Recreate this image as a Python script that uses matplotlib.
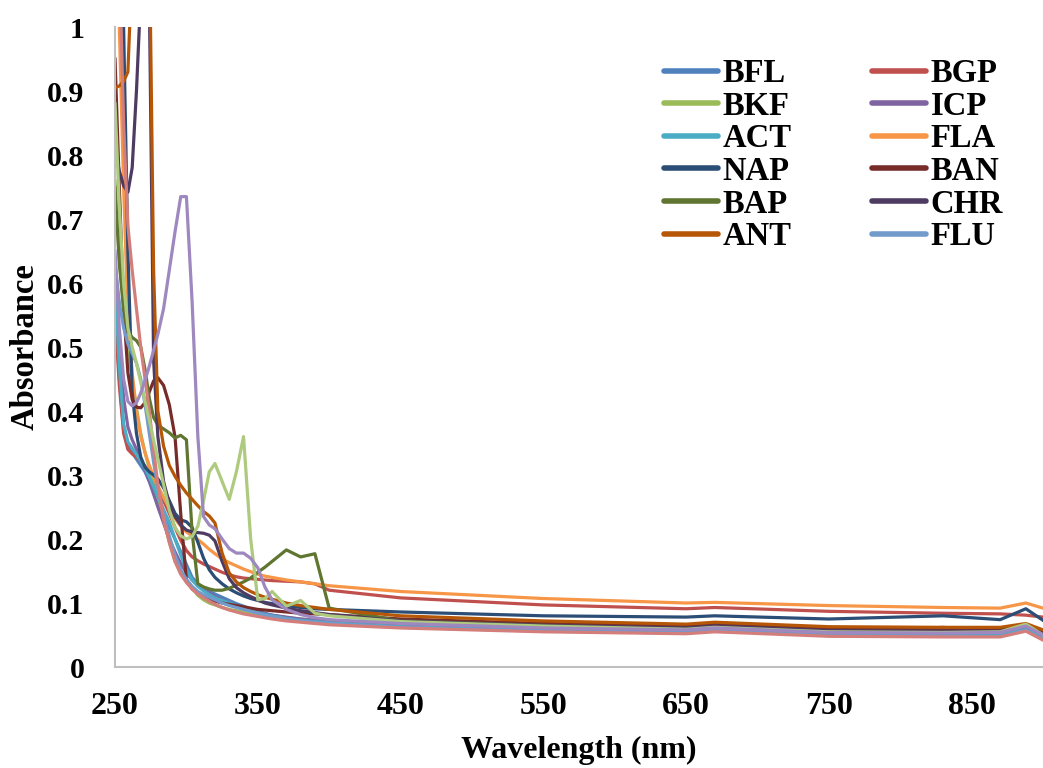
import matplotlib
matplotlib.use("Agg")
import matplotlib.pyplot as plt

plt.rcParams['font.family'] = ['Liberation Serif', 'DejaVu Serif']
plt.rcParams['font.weight'] = 'bold'

wl = [250, 253, 256, 259, 262, 265, 268, 271, 274, 277,
      280, 284, 288, 292, 296, 300, 304, 308, 312, 316,
      320, 325, 330, 335, 340, 345, 350, 355, 360, 370,
      380, 390, 400, 450, 550, 650, 670, 750, 830, 870,
      888, 900]

BFL = [0.58, 0.45, 0.37, 0.345, 0.335, 0.325, 0.315, 0.305, 0.29, 0.275,
       0.26, 0.24, 0.22, 0.2, 0.18, 0.16, 0.14, 0.13, 0.124, 0.119,
       0.114, 0.109, 0.104, 0.099, 0.095, 0.091, 0.087, 0.084, 0.081, 0.077,
       0.074, 0.072, 0.07, 0.064, 0.058, 0.055, 0.059, 0.051, 0.05, 0.05,
       0.06, 0.045]
BGP = [0.55, 0.44, 0.365, 0.34, 0.333, 0.328, 0.322, 0.314, 0.304, 0.293,
       0.28, 0.26, 0.24, 0.218, 0.198, 0.182, 0.172, 0.166, 0.161, 0.157,
       0.153, 0.148, 0.144, 0.141, 0.139, 0.138, 0.137, 0.136, 0.135, 0.134,
       0.133, 0.13, 0.12, 0.108, 0.097, 0.091, 0.093, 0.087, 0.084, 0.083,
       0.081, 0.078]
BKF = [0.76, 0.64, 0.56, 0.5, 0.45, 0.405, 0.365, 0.335, 0.31, 0.285,
       0.262, 0.232, 0.195, 0.165, 0.148, 0.136, 0.124, 0.112, 0.105, 0.1,
       0.097, 0.093, 0.09, 0.088, 0.086, 0.084, 0.082, 0.08, 0.079, 0.077,
       0.075, 0.073, 0.071, 0.066, 0.061, 0.057, 0.06, 0.054, 0.053, 0.054,
       0.066, 0.051]
ICP = [0.63, 0.5, 0.42, 0.375, 0.355, 0.34, 0.325, 0.308, 0.29, 0.27,
       0.25, 0.225, 0.2, 0.18, 0.162, 0.147, 0.136, 0.128, 0.122, 0.116,
       0.11, 0.105, 0.1, 0.096, 0.092, 0.089, 0.086, 0.083, 0.081, 0.078,
       0.075, 0.073, 0.071, 0.066, 0.06, 0.057, 0.06, 0.053, 0.062, 0.055,
       0.064, 0.05]
ACT = [0.6, 0.47, 0.38, 0.352, 0.342, 0.332, 0.322, 0.311, 0.297, 0.282,
       0.266, 0.246, 0.226, 0.2, 0.175, 0.152, 0.136, 0.126, 0.119, 0.113,
       0.108, 0.104, 0.1, 0.096, 0.092, 0.088, 0.085, 0.082, 0.08, 0.076,
       0.073, 0.071, 0.069, 0.063, 0.057, 0.054, 0.058, 0.05, 0.049, 0.049,
       0.06, 0.045]
FLA = [1.2, 1.0, 0.75, 0.55, 0.46, 0.4, 0.36, 0.335, 0.315, 0.298,
       0.283, 0.265, 0.248, 0.232, 0.22, 0.211, 0.205, 0.199, 0.192, 0.184,
       0.177, 0.169, 0.163, 0.158, 0.153, 0.149, 0.145, 0.142, 0.14, 0.136,
       0.133, 0.13, 0.127, 0.118, 0.107, 0.1, 0.101, 0.096, 0.093, 0.092,
       0.1, 0.092]
NAP = [1.2, 1.15, 1.0, 0.65, 0.43, 0.365, 0.328, 0.312, 0.305, 0.3,
       0.294, 0.28, 0.26, 0.24, 0.23, 0.227, 0.218, 0.195, 0.17, 0.152,
       0.14, 0.13, 0.122, 0.116, 0.111, 0.107, 0.104, 0.101, 0.099, 0.096,
       0.093, 0.091, 0.09, 0.086, 0.08, 0.078, 0.08, 0.075, 0.08, 0.074,
       0.091, 0.073]
BAN = [0.95, 0.75, 0.56, 0.46, 0.418, 0.406, 0.405, 0.413, 0.43, 0.447,
       0.452, 0.44, 0.41, 0.36, 0.24, 0.135, 0.122, 0.115, 0.11, 0.106,
       0.103, 0.1, 0.098, 0.096, 0.094, 0.092, 0.09, 0.089, 0.088, 0.086,
       0.084, 0.083, 0.082, 0.075, 0.068, 0.064, 0.067, 0.06, 0.059, 0.059,
       0.066, 0.055]
BAP = [0.75, 0.63, 0.56, 0.525, 0.515, 0.51, 0.5, 0.465, 0.42, 0.39,
       0.378, 0.372, 0.366, 0.358, 0.362, 0.355, 0.21, 0.13, 0.125, 0.122,
       0.12, 0.12, 0.123, 0.128, 0.133, 0.139, 0.148, 0.156, 0.165, 0.183,
       0.172, 0.177, 0.092, 0.072, 0.065, 0.06, 0.063, 0.056, 0.055, 0.055,
       0.066, 0.05]
CHR = [0.81, 0.775, 0.752, 0.742, 0.78, 0.9, 1.05, 1.12, 1.05, 0.48,
       0.36, 0.29, 0.255, 0.235, 0.222, 0.214, 0.211, 0.21, 0.209, 0.206,
       0.197, 0.165, 0.138, 0.124, 0.116, 0.11, 0.105, 0.1, 0.097, 0.092,
       0.088, 0.085, 0.082, 0.072, 0.065, 0.061, 0.064, 0.057, 0.056, 0.056,
       0.064, 0.052]
ANT = [0.905, 0.908, 0.915, 0.93, 1.1, 1.3, 1.3, 1.3, 1.15, 0.62,
       0.4, 0.345, 0.315, 0.298, 0.284, 0.272, 0.262, 0.252, 0.243, 0.236,
       0.225, 0.178, 0.147, 0.133, 0.124, 0.118, 0.113, 0.109, 0.106, 0.1,
       0.096, 0.093, 0.09, 0.08, 0.072, 0.067, 0.07, 0.063, 0.062, 0.062,
       0.068, 0.058]
FLU = [0.63, 0.57, 0.53, 0.505, 0.49, 0.475, 0.45, 0.41, 0.365, 0.32,
       0.28, 0.24, 0.205, 0.175, 0.152, 0.137, 0.126, 0.118, 0.113, 0.109,
       0.105, 0.1, 0.096, 0.093, 0.09, 0.087, 0.084, 0.081, 0.079, 0.075,
       0.072, 0.07, 0.068, 0.062, 0.056, 0.053, 0.057, 0.049, 0.048, 0.048,
       0.058, 0.044]

# extra curves drawn on the chart but missing from the legend
extra_salmon = [1.2, 1.1, 0.85, 0.69, 0.62, 0.56, 0.5, 0.45, 0.4, 0.34,
                0.285, 0.23, 0.195, 0.165, 0.145, 0.132, 0.122, 0.114, 0.108, 0.103,
                0.098, 0.093, 0.089, 0.086, 0.083, 0.081, 0.079, 0.077, 0.075, 0.072,
                0.07, 0.068, 0.066, 0.061, 0.055, 0.052, 0.055, 0.048, 0.047, 0.047,
                0.056, 0.042]
extra_green = [0.88, 0.72, 0.6, 0.53, 0.5, 0.475, 0.445, 0.415, 0.385, 0.355,
               0.325, 0.285, 0.245, 0.218, 0.205, 0.2, 0.204, 0.22, 0.26, 0.305,
               0.318, 0.29, 0.262, 0.305, 0.36, 0.2, 0.105, 0.107, 0.118, 0.095,
               0.104, 0.084, 0.08, 0.071, 0.064, 0.059, 0.062, 0.055, 0.054, 0.055,
               0.067, 0.05]
extra_lavender = [0.65, 0.53, 0.45, 0.415, 0.408, 0.413, 0.428, 0.448, 0.47, 0.495,
                  0.52, 0.56, 0.62, 0.68, 0.735, 0.735, 0.57, 0.36, 0.235, 0.222,
                  0.216, 0.2, 0.185, 0.178, 0.178, 0.17, 0.155, 0.125, 0.105, 0.09,
                  0.082, 0.077, 0.074, 0.068, 0.061, 0.058, 0.061, 0.054, 0.053, 0.054,
                  0.064, 0.05]

names = ['BFL', 'BGP', 'BKF', 'ICP', 'ACT', 'FLA', 'NAP', 'BAN', 'BAP', 'CHR', 'ANT', 'FLU']
series = [BFL, BGP, BKF, ICP, ACT, FLA, NAP, BAN, BAP, CHR, ANT, FLU]
colors = ['#4F81BD', '#C0504D', '#9BBB59', '#8064A2', '#4BACC6', '#F79646',
          '#2C4D75', '#772C2A', '#5F7530', '#4D3B62', '#B65708', '#729ACA']

fig = plt.figure(figsize=(10.43, 7.68), dpi=100)
ax = fig.add_axes([0.1103, 0.1315, 0.8897, 0.8333])

lines = {}
for name, vals, c in zip(names, series, colors):
    lines[name], = ax.plot(wl, vals, color=c, lw=2.3, label=name)
ax.plot(wl, extra_salmon, color='#D47E7B', lw=2.3)
ax.plot(wl, extra_green, color='#AECA7E', lw=2.3)
ax.plot(wl, extra_lavender, color='#9E88BF', lw=2.3)

ax.set_xlim(250, 900)
ax.set_ylim(0, 1)
ax.set_xticks(range(250, 900, 100))
ax.set_yticks([0, 0.1, 0.2, 0.3, 0.4, 0.5, 0.6, 0.7, 0.8, 0.9, 1])
ax.set_yticklabels(['0', '0.1', '0.2', '0.3', '0.4', '0.5', '0.6', '0.7', '0.8', '0.9', '1'])
ax.tick_params(axis='x', length=0, pad=18, labelsize=23)
ax.tick_params(axis='y', length=0, pad=22, labelsize=21.5)
for s in ['top', 'right']:
    ax.spines[s].set_visible(False)
for s in ['left', 'bottom']:
    ax.spines[s].set_color('#BFBFBF')
    ax.spines[s].set_linewidth(1.5)

ax.set_xlabel('Wavelength (nm)', fontsize=23, fontweight='bold', labelpad=11)
ax.set_ylabel('Absorbance', fontsize=23.5, fontweight='bold', labelpad=5)

order = ['BFL', 'BKF', 'ACT', 'NAP', 'BAP', 'ANT', 'BGP', 'ICP', 'FLA', 'BAN', 'CHR', 'FLU']
leg = fig.legend([lines[n] for n in order], order, ncol=2, frameon=False,
                 loc='upper left', bbox_to_anchor=(664 / 1043, 1 - 58 / 768),
                 fontsize=23.5, handlelength=1.65, handletextpad=0.15,
                 columnspacing=2.45, labelspacing=0.05, borderpad=0, borderaxespad=0)
for h in leg.get_lines():
    h.set_linewidth(4)
    h.set_solid_capstyle('round')

fig.savefig('out.png', dpi=100)
